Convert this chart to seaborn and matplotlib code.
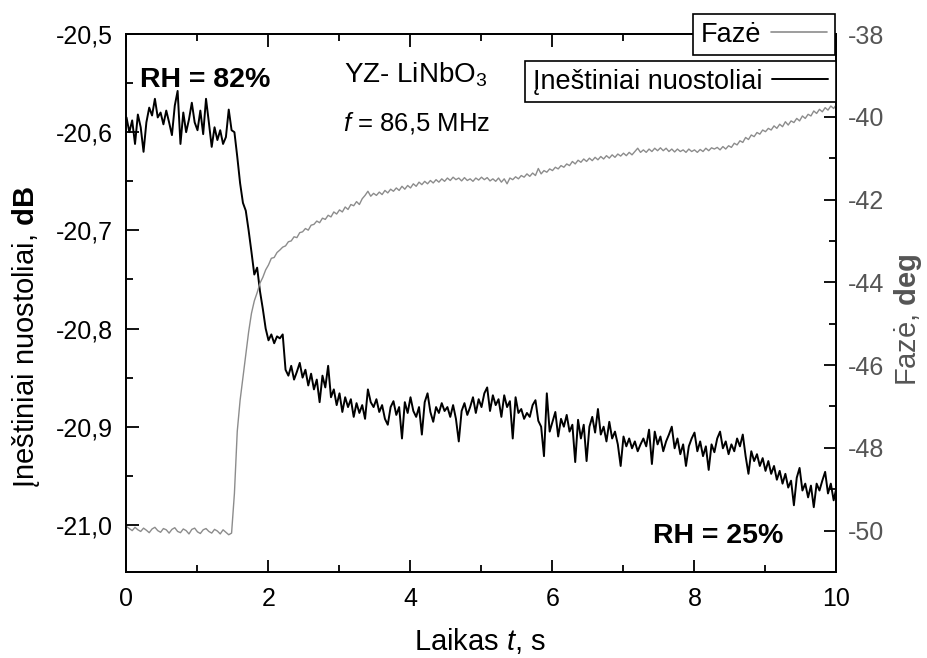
import numpy as np
import matplotlib
matplotlib.use("Agg")
import matplotlib.pyplot as plt
from matplotlib.ticker import MultipleLocator, FuncFormatter
from matplotlib.lines import Line2D
import seaborn as sns

# ---------------- data ----------------
t_start, t_end = 0.0, 10.0   # s, uniform sampling grid

loss_db = [
    -20.585, -20.600, -20.588, -20.612, -20.582, -20.595, -20.620, -20.590, -20.575, -20.583,
    -20.566, -20.585, -20.580, -20.592, -20.578, -20.590, -20.603, -20.573, -20.558, -20.612,
    -20.580, -20.600, -20.587, -20.570, -20.590, -20.598, -20.578, -20.602, -20.566, -20.590,
    -20.615, -20.595, -20.608, -20.598, -20.612, -20.605, -20.577, -20.598, -20.600, -20.625,
    -20.652, -20.672, -20.680, -20.700, -20.722, -20.745, -20.738, -20.762, -20.780, -20.800,
    -20.812, -20.806, -20.815, -20.808, -20.810, -20.806, -20.842, -20.848, -20.838, -20.852,
    -20.844, -20.835, -20.850, -20.842, -20.858, -20.846, -20.862, -20.852, -20.875, -20.848,
    -20.860, -20.838, -20.870, -20.862, -20.878, -20.866, -20.885, -20.870, -20.880, -20.872,
    -20.890, -20.876, -20.886, -20.878, -20.892, -20.862, -20.875, -20.880, -20.872, -20.885,
    -20.878, -20.892, -20.898, -20.880, -20.874, -20.888, -20.880, -20.912, -20.875, -20.886,
    -20.870, -20.884, -20.890, -20.880, -20.908, -20.875, -20.866, -20.885, -20.895, -20.880,
    -20.886, -20.876, -20.884, -20.880, -20.890, -20.878, -20.892, -20.915, -20.884, -20.876,
    -20.888, -20.880, -20.870, -20.886, -20.872, -20.880, -20.866, -20.860, -20.884, -20.868,
    -20.878, -20.872, -20.890, -20.868, -20.880, -20.874, -20.912, -20.870, -20.886, -20.882,
    -20.892, -20.886, -20.890, -20.878, -20.873, -20.894, -20.900, -20.930, -20.866, -20.905,
    -20.895, -20.885, -20.910, -20.892, -20.900, -20.888, -20.905, -20.898, -20.936, -20.893,
    -20.912, -20.898, -20.935, -20.900, -20.890, -20.906, -20.882, -20.908, -20.900, -20.915,
    -20.895, -20.912, -20.905, -20.918, -20.940, -20.910, -20.920, -20.912, -20.922, -20.915,
    -20.925, -20.918, -20.912, -20.920, -20.903, -20.938, -20.905, -20.918, -20.910, -20.925,
    -20.915, -20.908, -20.900, -20.922, -20.912, -20.928, -20.918, -20.940, -20.920, -20.912,
    -20.906, -20.925, -20.915, -20.930, -20.920, -20.944, -20.918, -20.926, -20.912, -20.905,
    -20.922, -20.915, -20.928, -20.918, -20.925, -20.912, -20.920, -20.908, -20.930, -20.948,
    -20.925, -20.935, -20.928, -20.940, -20.932, -20.945, -20.935, -20.948, -20.940, -20.954,
    -20.945, -20.958, -20.948, -20.962, -20.955, -20.980, -20.952, -20.942, -20.965, -20.958,
    -20.972, -20.960, -20.982, -20.958, -20.965, -20.955, -20.946, -20.968, -20.958, -20.975,
    -20.962,
]

phase_deg = [
    -49.90, -49.95, -50.00, -49.92, -49.98, -50.02, -49.94, -49.99, -50.05, -49.96,
    -49.92, -50.00, -50.04, -49.95, -49.98, -50.06, -49.97, -49.93, -50.02, -50.05,
    -49.96, -50.00, -50.08, -49.97, -49.94, -50.03, -50.07, -49.98, -49.95, -50.02,
    -50.06, -49.97, -50.01, -50.08, -49.98, -50.04, -50.10, -50.06, -49.10, -47.60,
    -46.85, -46.30, -45.75, -45.20, -44.75, -44.45, -44.25, -44.02, -43.88, -43.70,
    -43.58, -43.42, -43.40, -43.28, -43.22, -43.15, -43.12, -43.02, -43.00, -42.90,
    -42.92, -42.80, -42.78, -42.70, -42.74, -42.62, -42.60, -42.52, -42.56, -42.45,
    -42.48, -42.38, -42.42, -42.30, -42.35, -42.25, -42.30, -42.18, -42.24, -42.12,
    -42.15, -42.05, -42.12, -41.98, -41.90, -41.80, -41.92, -41.85, -41.90, -41.82,
    -41.88, -41.78, -41.84, -41.75, -41.80, -41.72, -41.78, -41.68, -41.75, -41.66,
    -41.72, -41.62, -41.68, -41.58, -41.64, -41.56, -41.62, -41.54, -41.60, -41.52,
    -41.58, -41.50, -41.56, -41.48, -41.54, -41.46, -41.52, -41.48, -41.55, -41.47,
    -41.54, -41.50, -41.56, -41.48, -41.53, -41.46, -41.52, -41.47, -41.55, -41.50,
    -41.56, -41.48, -41.58, -41.50, -41.62, -41.48, -41.52, -41.45, -41.50, -41.42,
    -41.46, -41.38, -41.44, -41.36, -41.42, -41.25, -41.38, -41.30, -41.34, -41.26,
    -41.30, -41.22, -41.26, -41.18, -41.22, -41.14, -41.18, -41.08, -41.14, -41.05,
    -41.10, -41.02, -41.08, -41.00, -41.06, -40.98, -41.04, -40.96, -41.02, -40.94,
    -41.00, -40.92, -40.98, -40.90, -40.95, -40.88, -40.94, -40.86, -40.92, -40.84,
    -40.76, -40.86, -40.80, -40.86, -40.78, -40.84, -40.76, -40.82, -40.75, -40.82,
    -40.76, -40.84, -40.78, -40.85, -40.78, -40.84, -40.80, -40.86, -40.78, -40.84,
    -40.80, -40.86, -40.79, -40.84, -40.76, -40.82, -40.75, -40.78, -40.74, -40.80,
    -40.72, -40.78, -40.70, -40.74, -40.64, -40.68, -40.58, -40.62, -40.50, -40.55,
    -40.44, -40.48, -40.38, -40.42, -40.32, -40.36, -40.28, -40.32, -40.22, -40.28,
    -40.18, -40.24, -40.12, -40.20, -40.10, -40.14, -40.04, -40.10, -39.98, -40.04,
    -39.94, -39.98, -39.86, -39.92, -39.82, -39.88, -39.78, -39.84, -39.74, -39.80,
    -39.70,
]

time_s = np.linspace(t_start, t_end, len(loss_db))

label_loss = "Įneštiniai nuostoliai"
label_phase = "Fazė"
xlabel_text = r"Laikas $\mathit{t}$, s"
ylabel_left = r"Įneštiniai nuostoliai, $\mathbf{dB}$"
ylabel_right = r"Fazė, $\mathbf{deg}$"
rh_high = "RH = 82%"
rh_low = "RH = 25%"
material = r"YZ- LiNbO$_3$"
freq = r"$\mathit{f}$ = 86,5 MHz"

# ---------------- style ----------------
sns.set_style("ticks")
plt.rcParams["font.family"] = ["Liberation Sans", "DejaVu Sans"]
plt.rcParams["mathtext.fontset"] = "custom"
plt.rcParams["mathtext.rm"] = "Liberation Sans"
plt.rcParams["mathtext.it"] = "Liberation Sans:italic"
plt.rcParams["mathtext.bf"] = "Liberation Sans:bold"
plt.rcParams["axes.unicode_minus"] = False
plt.rcParams["text.color"] = "black"
plt.rcParams["axes.labelcolor"] = "black"
plt.rcParams["xtick.color"] = "black"
plt.rcParams["ytick.color"] = "black"

W, H = 928, 658
fig = plt.figure(figsize=(W / 100, H / 100), dpi=100)
L, R, T, B = 126.5, 836.5, 34, 572
ax = fig.add_axes([L / W, 1 - B / H, (R - L) / W, (B - T) / H])
ax2 = ax.twinx()

gray_line = "#8c8c8c"
gray_text = "#555555"

sns.lineplot(x=time_s, y=loss_db, ax=ax, color="black", lw=1.4, legend=False)
sns.lineplot(x=time_s, y=phase_deg, ax=ax2, color=gray_line, lw=1.0, legend=False)

ax.set_xlim(0, 10)
ax.set_ylim(-21.048, -20.5)
ax2.set_ylim(-51, -38)

ax.xaxis.set_major_locator(MultipleLocator(2))
ax.xaxis.set_minor_locator(MultipleLocator(1))
ax.yaxis.set_major_locator(MultipleLocator(0.1))
ax.yaxis.set_minor_locator(MultipleLocator(0.05))
ax2.yaxis.set_major_locator(MultipleLocator(2))
ax2.yaxis.set_minor_locator(MultipleLocator(1))

ax.xaxis.set_major_formatter(FuncFormatter(lambda v, p: f"{v:.0f}"))
ax.yaxis.set_major_formatter(FuncFormatter(lambda v, p: f"{v:.1f}".replace(".", ",")))
ax2.yaxis.set_major_formatter(FuncFormatter(lambda v, p: f"{v:.0f}"))

for a in (ax, ax2):
    for s in a.spines.values():
        s.set_linewidth(1.3)
        s.set_color("black")
        s.set_visible(True)

ax.tick_params(axis="x", which="both", direction="in", top=True, bottom=True,
               labelsize=18, pad=11, colors="black")
ax.tick_params(axis="x", which="major", length=9, width=1.3)
ax.tick_params(axis="x", which="minor", length=5, width=1.3)
ax.tick_params(axis="y", which="both", direction="in", left=True, right=False,
               labelsize=18, pad=10, colors="black")
ax.tick_params(axis="y", which="major", length=9, width=1.3)
ax.tick_params(axis="y", which="minor", length=5, width=1.3)
ax2.tick_params(axis="y", which="both", direction="in", right=True, left=False,
                labelsize=18, pad=8, color="black", labelcolor=gray_text)
ax2.tick_params(axis="y", which="major", length=9, width=1.3)
ax2.tick_params(axis="y", which="minor", length=5, width=1.3)
ax.set_xlabel("")
ax.set_ylabel("")
ax2.set_ylabel("")

# axis titles
fig.text(480 / W, 1 - 641 / H, xlabel_text, fontsize=21, ha="center", va="center",
         color="black")
fig.text(26 / W, 1 - 337 / H, ylabel_left, fontsize=21, rotation=90,
         ha="center", va="center", color="black")
fig.text(908 / W, 1 - 320 / H, ylabel_right, fontsize=21, rotation=90,
         ha="center", va="center", color=gray_text)

# annotations
ax.text(0.19, -20.5543, rh_high, fontsize=20.5, fontweight="bold", ha="left",
        va="baseline", color="black")
ax.text(7.415, -21.0183, rh_low, fontsize=20.5, fontweight="bold", ha="left",
        va="baseline", color="black")
ax.text(3.06, -20.5489, material, fontsize=20, ha="left", va="baseline", color="black")
ax.text(3.05, -20.5988, freq, fontsize=18.5, ha="left", va="baseline", color="black")

# legends (two separate boxes, label before line)
h_phase = Line2D([], [], color=gray_line, lw=1.2)
h_loss = Line2D([], [], color="black", lw=1.4)
common = dict(fontsize=19.5, markerfirst=False, fancybox=False, framealpha=1,
              edgecolor="black", borderaxespad=0, handlelength=2.1,
              handletextpad=0.35, borderpad=0.28, bbox_transform=fig.transFigure,
              loc="upper right", labelcolor="black")
leg1 = ax2.legend([h_phase], [label_phase], bbox_to_anchor=(835 / W, 1 - 14 / H), **common)
leg1.get_frame().set_linewidth(1.2)
ax2.add_artist(leg1)
leg2 = ax2.legend([h_loss], [label_loss], bbox_to_anchor=(836 / W, 1 - 61 / H), **common)
leg2.get_frame().set_linewidth(1.2)
for lg in (leg1, leg2):
    lg.set_zorder(10)
    lg.get_frame().set_boxstyle("square", pad=0)

fig.savefig("out.png", dpi=100)
